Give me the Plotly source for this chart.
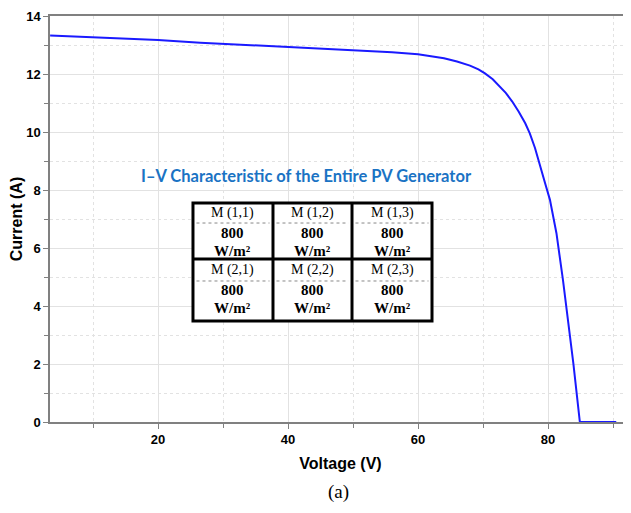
import plotly.graph_objects as go

voltage = [3.4, 10, 20, 26.5, 40, 50, 56, 60, 62, 64, 66, 68, 69.3, 70.3, 71.5, 72.5, 73.5,
           74.5, 75.5, 76.5, 77.2, 78.0, 78.9, 79.6, 80.3, 81.3, 82.3, 83.1, 83.9, 84.9, 90.5]
current = [13.33, 13.27, 13.17, 13.08, 12.94, 12.83, 12.75, 12.68, 12.62, 12.54, 12.43,
           12.29, 12.16, 12.02, 11.82, 11.6, 11.35, 11.05, 10.7, 10.3, 9.95, 9.45, 8.7,
           8.2, 7.66, 6.51, 4.9, 3.5, 2.02, 0, 0]

module_labels = [["M (1,1)", "M (1,2)", "M (1,3)"], ["M (2,1)", "M (2,2)", "M (2,3)"]]
irradiance = "800"
irr_unit = "W/m²"
title_text = "I–V Characteristic of the Entire PV Generator"

fig = go.Figure()
fig.add_trace(go.Scatter(x=voltage, y=current, mode="lines",
                         line=dict(color="#1a1aff", width=2), showlegend=False))

grid_major = "#e2e2e2"
grid_minor = "#e2e2e2"
axis_col = "#808080"

# page body has an 8px margin; compensate so the plot sits where the reference does
fig.update_layout(
    width=623, height=505,
    margin=dict(l=42, r=0, t=8, b=91, autoexpand=False),
    paper_bgcolor="white", plot_bgcolor="white",
    font=dict(family="Liberation Sans, Arial", color="black"),
    xaxis=dict(range=[3.38, 92.77], dtick=20, tick0=0, showgrid=True, gridcolor=grid_major,
               gridwidth=1, zeroline=False, showline=True, linecolor=axis_col, linewidth=1.5,
               mirror=True, ticks="outside", ticklen=5, tickcolor=axis_col,
               tickfont=dict(size=13, family="Liberation Sans", weight="bold"),
               title=dict(text="<b>Voltage (V)</b>", font=dict(size=16), standoff=11),
               minor=dict(dtick=10, tick0=0, showgrid=True, gridcolor=grid_minor,
                          griddash="dot", ticks="outside", ticklen=4, tickcolor=axis_col)),
    yaxis=dict(range=[0, 14], dtick=2, tick0=0, showgrid=True, gridcolor=grid_major,
               gridwidth=1, zeroline=False, showline=True, linecolor=axis_col, linewidth=1.5,
               ticks="outside", ticklen=5, tickcolor=axis_col,
               tickfont=dict(size=13, family="Liberation Sans", weight="bold"),
               title=dict(text="<b>Current (A)</b>", font=dict(size=16), standoff=9),
               minor=dict(dtick=1, tick0=0, showgrid=True, gridcolor=grid_minor,
                          griddash="dot", ticks="outside", ticklen=4, tickcolor=axis_col)),
)

# table overlay (paper coordinates)
xs = [0.2461, 0.3838, 0.5198, 0.6575]
y_top, y_mid, y_bot = 0.5394, 0.4015, 0.2488
dash_y = [0.4901, 0.3473]
shapes = []
shapes.append(dict(type="rect", xref="paper", yref="paper", x0=xs[0], x1=xs[3],
                   y0=y_bot, y1=y_top, fillcolor="white", line=dict(color="black", width=3),
                   layer="above"))
for xv in xs[1:3]:
    shapes.append(dict(type="line", xref="paper", yref="paper", x0=xv, x1=xv,
                       y0=y_bot, y1=y_top, line=dict(color="black", width=3), layer="above"))
shapes.append(dict(type="line", xref="paper", yref="paper", x0=xs[0], x1=xs[3],
                   y0=y_mid, y1=y_mid, line=dict(color="black", width=3), layer="above"))
for dy in dash_y:
    for c in range(3):
        shapes.append(dict(type="line", xref="paper", yref="paper", x0=xs[c] + 0.006,
                           x1=xs[c + 1] - 0.006, y0=dy, y1=dy,
                           line=dict(color="#888888", width=1, dash="dot"), layer="above"))
fig.update_layout(shapes=shapes)

row_y = [[0.5148, 0.4655, 0.4212], [0.3744, 0.3251, 0.2808]]
row_size = [14, 15, 15]
annotations = []
for r in range(2):
    for c in range(3):
        cx = (xs[c] + xs[c + 1]) / 2
        for k, txt in enumerate([module_labels[r][c], "<b>" + irradiance + "</b>",
                                 "<b>" + irr_unit + "</b>"]):
            annotations.append(dict(x=cx, y=row_y[r][k], xref="paper", yref="paper",
                                    xanchor="center", yanchor="middle",
                                    text=txt, showarrow=False,
                                    font=dict(family="Liberation Serif", size=row_size[k],
                                              color="black")))
annotations.append(dict(x=0.4423, y=0.606, xref="paper", yref="paper",
                        xanchor="center", yanchor="middle",
                        text="<b>" + title_text + "</b>",
                        showarrow=False, font=dict(family="Lato", size=16.5, color="#1a73c4")))
annotations.append(dict(x=0.4957, y=-0.172, xref="paper", yref="paper",
                        xanchor="center", yanchor="middle", text="(a)",
                        showarrow=False, font=dict(family="Liberation Serif", size=19, color="black")))
fig.update_layout(annotations=annotations)

fig.write_html("out.html")
